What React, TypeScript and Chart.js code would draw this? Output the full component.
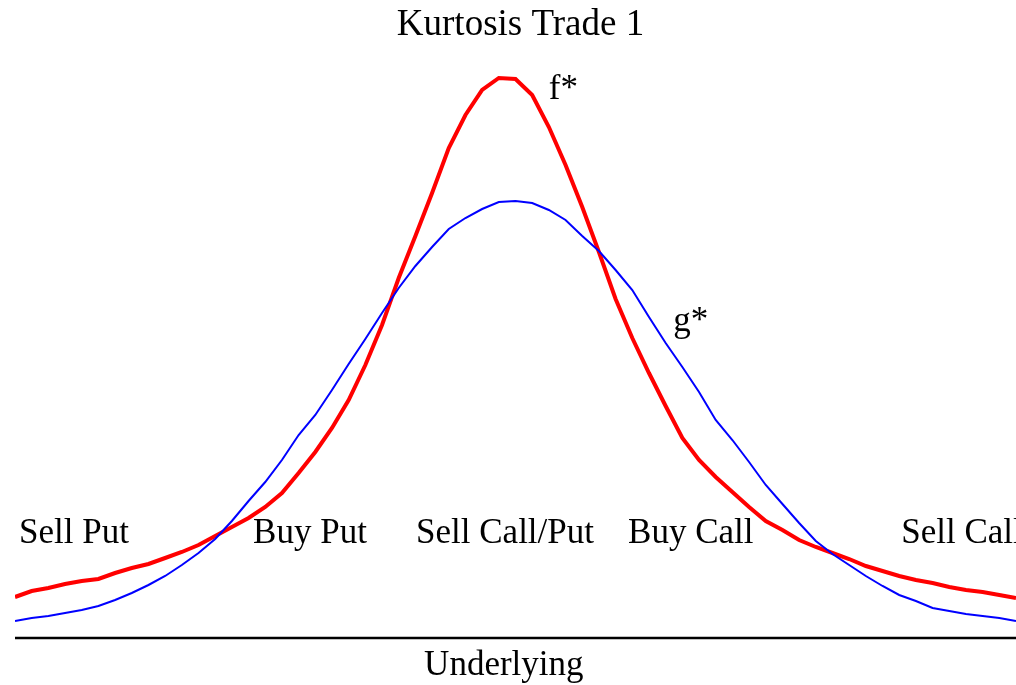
import React, { useEffect, useRef } from "react";
import { Chart, registerables } from "chart.js";

Chart.register(...registerables);

// Underlying grid (arbitrary units)
const underlying: number[] = Array.from({ length: 61 }, (_, i) => i);

// f* (leptokurtic, red)
const fStar: number[] = [
  40, 46, 49, 53, 56, 58, 64, 69, 73, 79,
  85, 92, 101, 110, 119, 130, 144, 164, 185, 209,
  237, 272, 312, 359, 401, 444, 489, 522, 547, 559,
  558, 542, 510, 472, 430, 385, 338, 299, 264, 231,
  199, 177, 160, 145, 130, 116, 107, 97, 90, 84,
  78, 71, 66, 61, 57, 54, 50, 47, 45, 42, 39,
];

// g* (normal, blue)
const gStar: number[] = [
  16, 19, 21, 24, 27, 31, 37, 44, 52, 61,
  72, 84, 98, 116, 136, 155, 177, 202, 222, 247,
  273, 298, 324, 349, 371, 390, 408, 419, 428, 435,
  436, 434, 427, 417, 401, 386, 367, 347, 320, 294,
  270, 245, 217, 197, 175, 152, 133, 114, 96, 83,
  72, 61, 51, 42, 36, 29, 26, 23, 21, 19, 16,
];

const regionLabels: string[] = ["Sell Put", "Buy Put", "Sell Call/Put", "Buy Call", "Sell Call"];
const regionLabelX: number[] = [0.24, 14.27, 24.04, 36.75, 53.12];
const regionLabelY = 94;

const curveLabels: string[] = ["f*", "g*"];
const curveLabelX: number[] = [32.0, 39.45];
const curveLabelY: number[] = [538, 306];

const titleText = "Kurtosis Trade 1";
const xAxisTitle = "Underlying";
const xAxisTitleAt = 29.3;

const FONT = '35px "Liberation Serif", "Times New Roman", serif';
const TITLE_FONT = '37px "Liberation Serif", "Times New Roman", serif';

export default function App() {
  const ref = useRef<HTMLCanvasElement | null>(null);

  useEffect(() => {
    if (!ref.current) return;
    const textPlugin = {
      id: "textPlugin",
      afterDraw(chart: any) {
        const { ctx, chartArea, scales } = chart;
        const xs = scales.x;
        const ys = scales.y;
        ctx.save();
        // axis line
        ctx.strokeStyle = "#000";
        ctx.lineWidth = 2.5;
        ctx.beginPath();
        const y0 = ys.getPixelForValue(0) + 1;
        ctx.moveTo(chartArea.left, y0);
        ctx.lineTo(chart.width, y0);
        ctx.stroke();

        ctx.fillStyle = "#000";
        ctx.font = FONT;
        ctx.textBaseline = "alphabetic";
        ctx.textAlign = "left";
        regionLabels.forEach((t, i) => {
          ctx.fillText(t, xs.getPixelForValue(regionLabelX[i]), ys.getPixelForValue(regionLabelY));
        });
        curveLabels.forEach((t, i) => {
          ctx.fillText(t, xs.getPixelForValue(curveLabelX[i]), ys.getPixelForValue(curveLabelY[i]));
        });
        ctx.textAlign = "center";
        ctx.fillText(xAxisTitle, xs.getPixelForValue(xAxisTitleAt), 675);
        ctx.font = TITLE_FONT;
        ctx.fillText(titleText, 520.5, 35);
        ctx.restore();
      },
    };

    const chart = new Chart(ref.current, {
      type: "line",
      data: {
        datasets: [
          {
            label: "g*",
            data: underlying.map((u, i) => ({ x: u, y: gStar[i] })),
            borderColor: "#0000ff",
            borderWidth: 2,
            pointRadius: 0,
            tension: 0,
            fill: false,
          },
          {
            label: "f*",
            data: underlying.map((u, i) => ({ x: u, y: fStar[i] })),
            borderColor: "#ff0000",
            borderWidth: 4,
            pointRadius: 0,
            tension: 0,
            fill: false,
          },
        ],
      },
      options: {
        animation: false,
        responsive: false,
        layout: { padding: { left: 15, right: 0, top: 37, bottom: 48 } },
        plugins: {
          legend: { display: false },
          tooltip: { enabled: false },
          title: { display: false },
        },
        scales: {
          x: { type: "linear", min: 0, max: 60, display: false },
          y: { type: "linear", min: 0, max: 600, display: false },
        },
      },
      plugins: [textPlugin],
    });
    return () => chart.destroy();
  }, []);

  return (
    <div style={{ position: "fixed", left: 0, top: 0, width: 1016, height: 685, background: "#fff" }}>
      <canvas ref={ref} width={1016} height={685} style={{ width: 1016, height: 685 }} />
    </div>
  );
}
